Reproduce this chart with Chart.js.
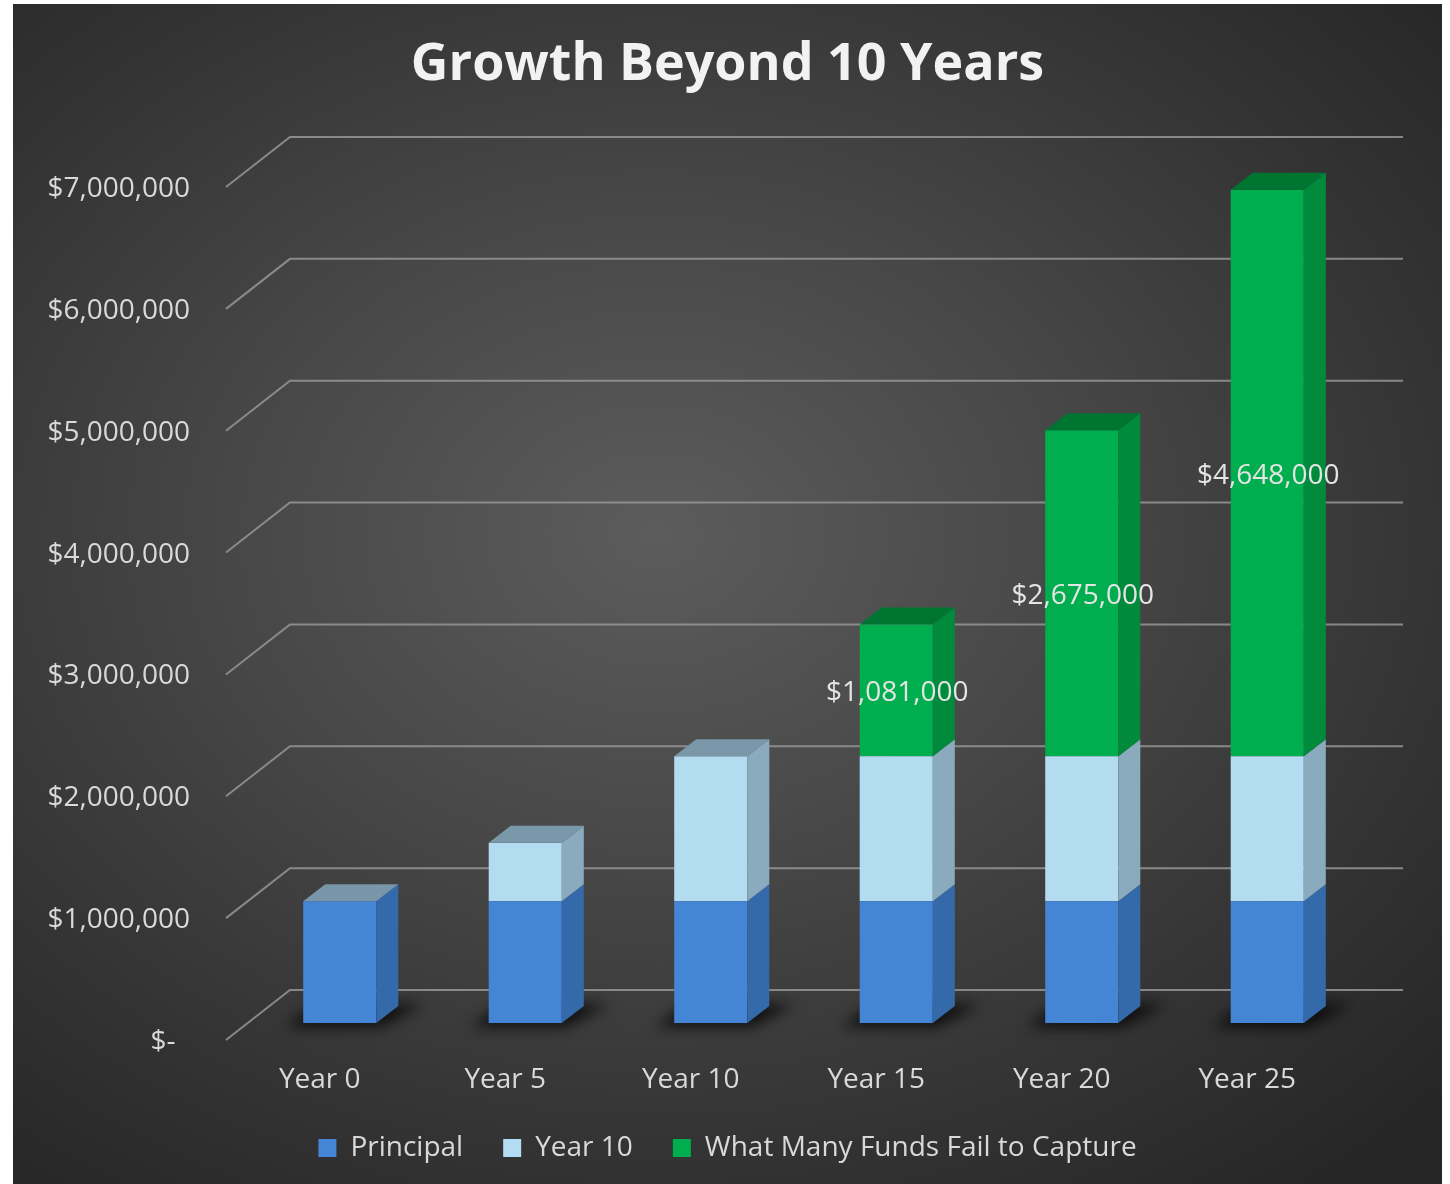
<!DOCTYPE html>
<html>
<head>
<meta charset="utf-8">
<script src="https://cdn.jsdelivr.net/npm/chart.js@4"></script>
<style>
  html, body { margin: 0; padding: 0; background: #fff; }
  #box {
    position: absolute; left: 13px; top: 4px; width: 1429px; height: 1180px;
    background: radial-gradient(ellipse 75% 70% at 45% 45%, #5c5c5c 0%, #474747 40%, #333 75%, #262626 100%);
  }
  canvas { display: block; }
</style>
</head>
<body>
<div id="box"><canvas id="growthChart" width="1429" height="1180"></canvas></div>
<script>
// data
const categories = ['Year 0', 'Year 5', 'Year 10', 'Year 15', 'Year 20', 'Year 25'];
const principal = [1000000, 1000000, 1000000, 1000000, 1000000, 1000000];
const year10 = [0, 480000, 1190000, 1190000, 1190000, 1190000];
const missed = [0, 0, 0, 1081000, 2675000, 4648000];
const yTicks = [0, 1000000, 2000000, 3000000, 4000000, 5000000, 6000000, 7000000];

// цвета: лицевая, боковая, верхняя грань
const faces = [
  { front: '#4485d6', side: '#346aa9', top: '#7896a8' },
  { front: '#b3dcf0', side: '#8aaabd', top: '#7a98a9' },
  { front: '#00ae4f', side: '#008b3c', top: '#007532' },
];

const DX = 22;  // глубина столбца
const DY = -17;

const money = (v) => '$' + v.toLocaleString('en-US');

// сетка «задней стенки» + тени под столбцами
const wallPlugin = {
  id: 'wall',
  beforeDatasetsDraw(chart) {
    const { ctx, chartArea: a, scales } = chart;
    const y = scales.y;
    ctx.save();
    ctx.strokeStyle = 'rgba(150,150,150,0.85)';
    ctx.lineWidth = 2;
    yTicks.forEach((v) => {
      const py = y.getPixelForValue(v);
      ctx.beginPath();
      ctx.moveTo(a.left - 21, py + 17);
      ctx.lineTo(a.left + 43, py - 33);
      ctx.lineTo(a.right + 43, py - 33);
      ctx.stroke();
    });
    // тени
    const meta = chart.getDatasetMeta(0);
    ctx.filter = 'blur(7px)';
    ctx.fillStyle = 'rgba(0,0,0,0.75)';
    meta.data.forEach((bar) => {
      const l = bar.x - bar.width / 2;
      const r = bar.x + bar.width / 2;
      const b = bar.base;
      ctx.beginPath();
      ctx.moveTo(l - 18, b + 4);
      ctx.lineTo(r + 4, b + 4);
      ctx.lineTo(r + DX + 26, b + DY - 2);
      ctx.lineTo(l + DX - 8, b + DY - 2);
      ctx.closePath();
      ctx.fill();
    });
    ctx.restore();
  },
  afterDatasetsDraw(chart) {
    const { ctx } = chart;
    ctx.save();
    const n = categories.length;
    for (let i = 0; i < n; i++) {
      let topDs = -1;
      chart.data.datasets.forEach((ds, d) => {
        if (ds.data[i] > 0) topDs = d;
      });
      chart.data.datasets.forEach((ds, d) => {
        if (!(ds.data[i] > 0)) return;
        const bar = chart.getDatasetMeta(d).data[i];
        const l = bar.x - bar.width / 2;
        const r = bar.x + bar.width / 2;
        const t = bar.y;
        const b = bar.base;
        // боковая грань
        ctx.fillStyle = faces[d].side;
        ctx.beginPath();
        ctx.moveTo(r, t);
        ctx.lineTo(r + DX, t + DY);
        ctx.lineTo(r + DX, b + DY);
        ctx.lineTo(r, b);
        ctx.closePath();
        ctx.fill();
        // верхняя грань
        if (d === topDs) {
          ctx.fillStyle = faces[d].top;
          ctx.beginPath();
          ctx.moveTo(l, t);
          ctx.lineTo(l + DX, t + DY);
          ctx.lineTo(r + DX, t + DY);
          ctx.lineTo(r, t);
          ctx.closePath();
          ctx.fill();
        }
      });
    }
    // подписи зелёных сегментов
    const meta = chart.getDatasetMeta(2);
    ctx.fillStyle = '#e4e4e4';
    ctx.font = '28px "Open Sans"';
    ctx.textAlign = 'center';
    ctx.textBaseline = 'middle';
    meta.data.forEach((bar, i) => {
      if (!(missed[i] > 0)) return;
      ctx.fillText(money(missed[i]), bar.x + 1, (bar.y + bar.base) / 2 + 3);
    });
    ctx.restore();
  },
};

const ctx = document.getElementById('growthChart').getContext('2d');

new Chart(ctx, {
  type: 'bar',
  data: {
    labels: categories,
    datasets: [
      { label: 'Principal', data: principal, backgroundColor: faces[0].front },
      { label: 'Year 10', data: year10, backgroundColor: faces[1].front },
      { label: 'What Many Funds Fail to Capture', data: missed, backgroundColor: faces[2].front },
    ],
  },
  options: {
    responsive: false,
    animation: false,
    layout: { padding: { left: 0, right: 0, top: 0, bottom: 12 } },
    datasets: {
      bar: { barPercentage: 0.394, categoryPercentage: 1.0 },
    },
    plugins: {
      title: {
        display: true,
        text: 'Growth Beyond 10 Years',
        color: '#f2f2f2',
        font: { family: '"Open Sans"', size: 52, weight: 'bold' },
        padding: { top: 30, bottom: 73.6 },
      },
      legend: {
        position: 'bottom',
        labels: {
          color: '#d9d9d9',
          boxWidth: 18,
          boxHeight: 18,
          padding: 40,
          font: { family: '"Open Sans"', size: 28 },
        },
      },
      tooltip: { enabled: false },
    },
    scales: {
      x: {
        stacked: true,
        grid: { display: false, drawTicks: false },
        border: { display: false },
        ticks: {
          color: '#d9d9d9',
          font: { family: '"Open Sans"', size: 28 },
          padding: 40,
          labelOffset: -20,
        },
        afterFit: (s) => { s.height = 71; },
      },
      y: {
        stacked: true,
        min: 0,
        max: 7000000,
        grid: { display: false, drawTicks: false },
        border: { display: false },
        ticks: {
          stepSize: 1000000,
          color: '#d9d9d9',
          font: { family: '"Open Sans"', size: 28 },
          padding: 57,
          labelOffset: 19,
          callback: (v) => (v === 0 ? '$-  ' : money(v)),
        },
        afterFit: (s) => { s.width = 234; },
      },
      yRight: {
        position: 'right',
        display: true,
        grid: { display: false, drawTicks: false },
        border: { display: false },
        ticks: { display: false },
        afterFit: (s) => { s.width = 82; },
      },
    },
  },
  plugins: [wallPlugin],
});
</script>
</body>
</html>
